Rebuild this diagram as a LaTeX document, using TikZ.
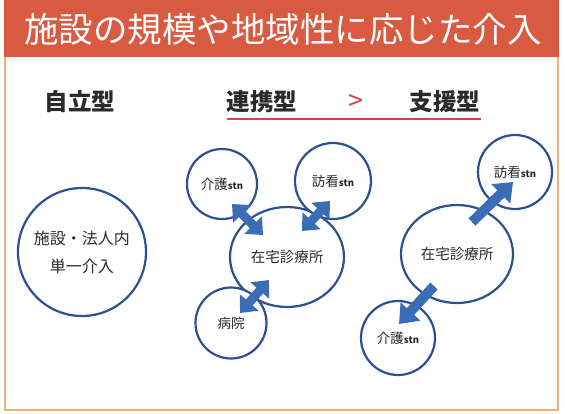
\documentclass[tikz,border=0pt]{standalone}
\usepackage{fontspec}
\setmainfont{Noto Sans CJK JP}
\newfontfamily\jp{Noto Sans CJK JP}
\usetikzlibrary{arrows.meta,shapes.geometric}
\definecolor{band}{HTML}{D85A40}
\definecolor{frameor}{HTML}{EDB07E}
\definecolor{cblue}{HTML}{2D4F93}
\definecolor{ablue}{HTML}{3B6DB6}
\definecolor{txt}{HTML}{2A2A2A}
\definecolor{ured}{HTML}{D8404C}
\tikzset{
  circ/.style={circle, draw=cblue, line width=2.2pt, fill=white, inner sep=0pt, text=txt, font=\jp\fontsize{13.5}{15}\selectfont},
  ell/.style={ellipse, draw=cblue, line width=2.2pt, fill=white, inner sep=0pt, text=txt, font=\jp\fontsize{14.5}{16}\selectfont},
  head/.style={text=txt, font=\jp\bfseries\fontsize{23.5}{26}\selectfont},
  dblarrow/.style={draw=ablue, line width=9pt, {Triangle[width=24pt,length=14pt]}-{Triangle[width=24pt,length=14pt]}},
  onearrow/.style={draw=ablue, line width=10pt, -{Triangle[width=26pt,length=17pt]}},
}
\newcommand{\stn}{{\bfseries\fontsize{9.5}{10}\selectfont stn}}
\begin{document}
\begin{tikzpicture}[x=1pt,y=-1pt]
\useasboundingbox (0,0) rectangle (565,413);
\fill[white] (0,0) rectangle (565,413);
% frame and title band
\draw[frameor, line width=2pt] (5,2) rectangle (558,410);
\fill[band] (4,0) rectangle (559,57);
\node[text=white, font=\jp\fontsize{34.5}{38}\selectfont] (title) at (283,29) {施設の規模や地域性に応じた介入};
% headings
\node[head] (h1) at (80,102) {自立型};
\node[head] (h2) at (262,102) {連携型};
\node[text=ured, font=\jp\fontsize{27}{30}\selectfont] (gt) at (356,102) {>};
\node[head] (h3) at (445,102) {支援型};
\coordinate (ul1) at (227,119);
\coordinate (ul2) at (481,119);
\draw[ured, line width=1.8pt] (ul1) -- (ul2);
% left
\node[circ, minimum size=128pt, font=\jp\fontsize{16}{28}\selectfont, align=center] (self) at (82,252) {施設・法人内\\単一介入};
% middle group
\node[ell, minimum width=114pt, minimum height=100pt] (mz) at (287,257) {在宅診療所};
\node[circ, minimum size=70pt] (mk) at (222,184) {介護\stn};
\node[circ, minimum size=76pt] (mh) at (333,181) {訪看\stn};
\node[circ, minimum size=71pt] (mb) at (231,323) {病院};
\coordinate (a1s) at (232,204);
\coordinate (a1e) at (263,235);
\coordinate (a2s) at (330,201);
\coordinate (a2e) at (302,231);
\coordinate (a3s) at (240,313);
\coordinate (a3e) at (269,280);
\draw[dblarrow] (a1s) -- (a1e);
\draw[dblarrow] (a2s) -- (a2e);
\draw[dblarrow] (a3s) -- (a3e);
% right group
\node[ell, minimum width=112pt, minimum height=98pt] (rz) at (457,254) {在宅診療所};
\node[circ, minimum size=74pt] (rh) at (515,172) {訪看\stn};
\node[circ, minimum size=74pt] (rk) at (398,338) {介護\stn};
\coordinate (b1s) at (472,222);
\coordinate (b1e) at (513,182);
\coordinate (b2s) at (434,286);
\coordinate (b2e) at (399,324);
\draw[onearrow] (b1s) -- (b1e);
\draw[onearrow] (b2s) -- (b2e);
\end{tikzpicture}
\end{document}
